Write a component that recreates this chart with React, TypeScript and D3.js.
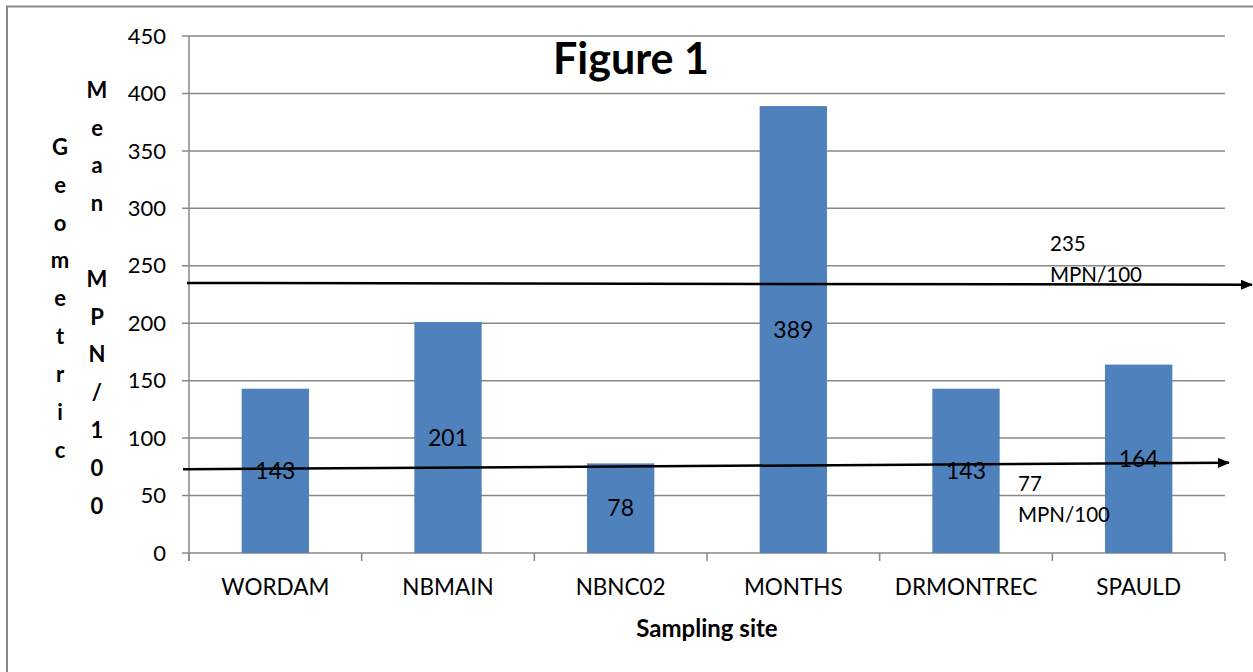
import React from "react";
import * as d3 from "d3";

const categories = ["WORDAM", "NBMAIN", "NBNC02", "MONTHS", "DRMONTREC", "SPAULD"];
const values = [143, 201, 78, 389, 143, 164];
const yTicks = [0, 50, 100, 150, 200, 250, 300, 350, 400, 450];
// hand-drawn reference arrows: [start value, end value]
const arrowHigh = [235, 233.5];
const arrowLow = [73, 78.5];
const arrowHighLabel = ["235", "MPN/100"];
const arrowLowLabel = ["77", "MPN/100"];
const yTitleLeft = "Geometric";
const yTitleRight = "Mean MPN/100";

const W = 1253, H = 672;
const FONT = "Lato, 'Open Sans', sans-serif";

export default function App() {
  const x0 = 189, x1 = 1225;
  const y = d3.scaleLinear().domain([0, 450]).range([553, 36]);
  const x = d3.scaleBand().domain(categories).range([x0, x1]).paddingInner(0.61).paddingOuter(0.305);
  const band = (x1 - x0) / categories.length;
  const ticksX = d3.range(categories.length + 1).map((i) => x0 + i * band);
  const ink = "#000";
  const grid = "#888";

  return (
    <svg width={W} height={H} style={{ position: "absolute", left: 0, top: 0, background: "#fff" }} fontFamily={FONT}>
      <defs>
        <marker id="ah" viewBox="0 0 12 10" refX="11" refY="5" markerWidth="12" markerHeight="10" markerUnits="userSpaceOnUse" orient="auto">
          <path d="M0,0 L12,5 L0,10 Z" fill="#000" />
        </marker>
      </defs>
      <rect x={7} y={6.5} width={W + 10} height={H + 10} fill="none" stroke="#888" strokeWidth={2} />
      {/* gridlines */}
      {yTicks.map((t) => (
        <line key={t} x1={182} x2={x1} y1={y(t)} y2={y(t)} stroke={grid} strokeWidth={1.5} />
      ))}
      {yTicks.map((t) => (
        <text key={"l" + t} x={166} y={y(t)} dy="0.35em" textAnchor="end" fontSize={22} fill={ink}>{t}</text>
      ))}
      {/* y axis */}
      <line x1={x0} x2={x0} y1={y(450)} y2={561} stroke={grid} strokeWidth={1.5} />
      {ticksX.map((t, i) => (
        <line key={"tx" + i} x1={t} x2={t} y1={y(0)} y2={561} stroke={grid} strokeWidth={1.5} />
      ))}
      {/* bars */}
      {values.map((v, i) => (
        <rect key={"b" + i} x={x(categories[i])} y={y(v)} width={x.bandwidth()} height={y(0) - y(v)} fill="#4F81BD" />
      ))}
      {/* x labels */}
      {categories.map((c) => (
        <text key={c} x={x(c)! + x.bandwidth() / 2} y={587} dy="0.35em" textAnchor="middle" fontSize={22.5} fill={ink}>{c}</text>
      ))}
      {/* arrows */}
      <line x1={187} y1={y(arrowHigh[0])} x2={1252} y2={y(arrowHigh[1])} stroke="#000" strokeWidth={2.5} markerEnd="url(#ah)" />
      <line x1={183} y1={y(arrowLow[0])} x2={1229} y2={y(arrowLow[1])} stroke="#000" strokeWidth={2.5} markerEnd="url(#ah)" />
      {/* data labels */}
      {values.map((v, i) => (
        <text key={"d" + i} x={x(categories[i])! + x.bandwidth() / 2} y={y(v / 2)} dy="0.35em" textAnchor="middle" fontSize={23} fill={ink}>{v}</text>
      ))}
      {/* arrow labels */}
      {arrowHighLabel.map((s, i) => (
        <text key={"ah" + i} x={1050} y={244 + i * 31} dy="0.35em" fontSize={20.5} fill={ink}>{s}</text>
      ))}
      {arrowLowLabel.map((s, i) => (
        <text key={"al" + i} x={1018} y={484 + i * 31} dy="0.35em" fontSize={20.5} fill={ink}>{s}</text>
      ))}
      {/* title */}
      <text x={631} y={59} dy="0.35em" textAnchor="middle" fontSize={43} fontWeight="bold" fill={ink}>Figure 1</text>
      {/* axis titles */}
      <text x={707} y={629} dy="0.35em" textAnchor="middle" fontSize={24} fontWeight="bold" fill={ink}>Sampling site</text>
      {yTitleLeft.split("").map((ch, i) => (
        <text key={"g" + i} x={60} y={147 + i * 37.9} dy="0.35em" textAnchor="middle" fontSize={22} fontWeight="bold" fill={ink}>{ch}</text>
      ))}
      {yTitleRight.split("").map((ch, i) => (
        <text key={"m" + i} x={97} y={90 + i * 37.8} dy="0.35em" textAnchor="middle" fontSize={22} fontWeight="bold" fill={ink}>{ch}</text>
      ))}
    </svg>
  );
}
